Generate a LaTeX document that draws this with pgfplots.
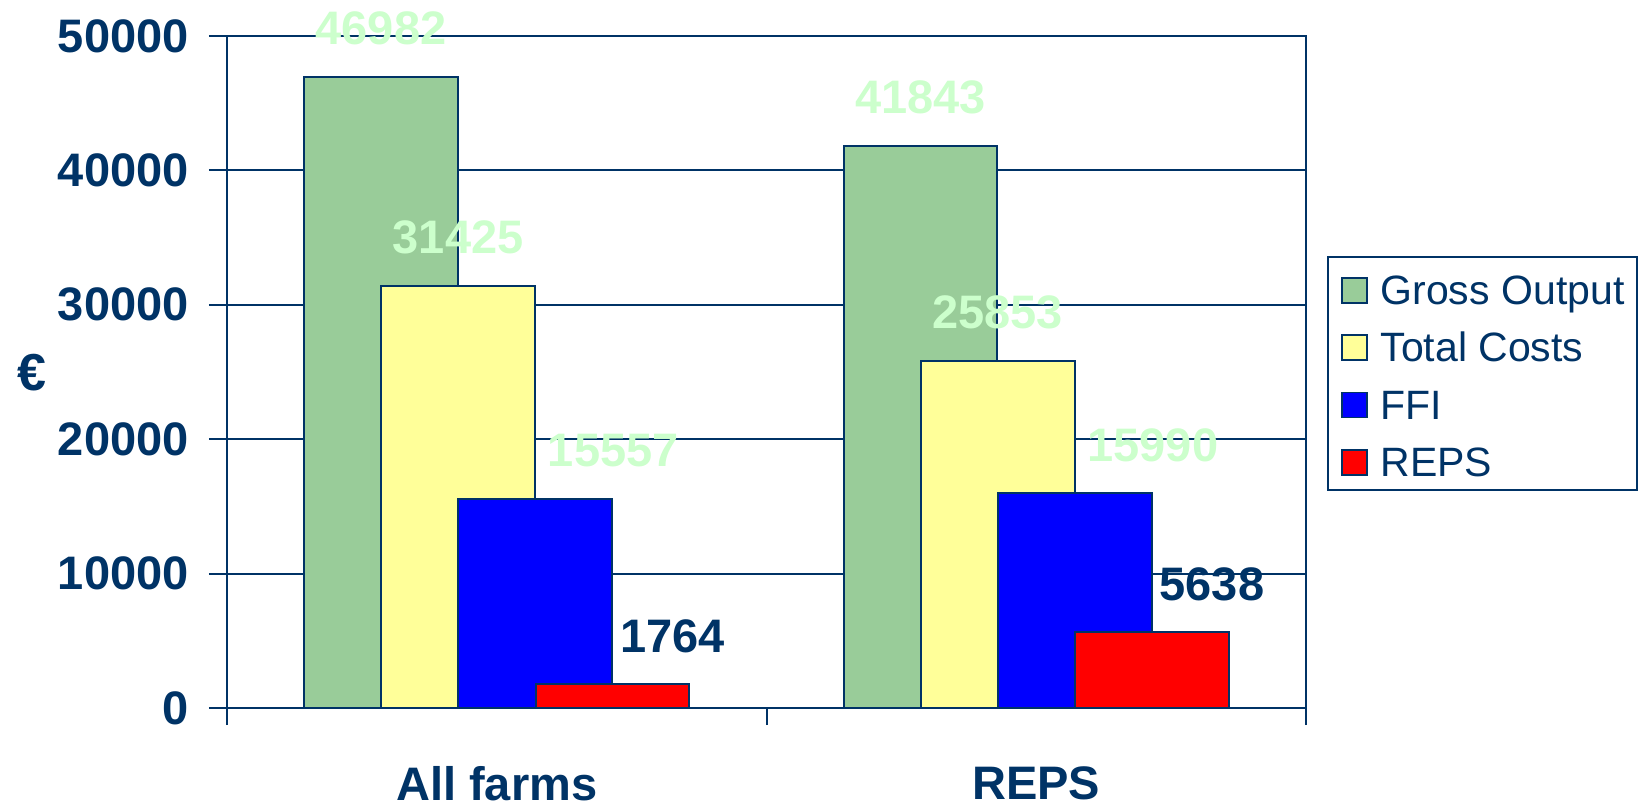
\documentclass[border=0pt]{standalone}
\usepackage{pgfplots}
\pgfplotsset{compat=1.18}
\usepackage{fontspec}
\setmainfont{Liberation Sans}
\definecolor{navy}{HTML}{003366}
\definecolor{go}{HTML}{99CC99}
\definecolor{tc}{HTML}{FFFF99}
\definecolor{ffi}{HTML}{0000FF}
\definecolor{reps}{HTML}{FF0000}
\definecolor{lbl}{HTML}{CCFFCC}
\newcommand{\bigf}{\fontsize{23.5}{27}\selectfont\bfseries}
\newcommand{\legf}{\fontsize{20.5}{24}\selectfont}
\begin{document}
\begin{tikzpicture}
\begin{axis}[
  at={(0,0)}, anchor=south west,
  scale only axis, width=539.5pt, height=336pt,
  xmin=-0.5, xmax=1.5, ymin=0, ymax=50000,
  clip=false,
  ybar, bar width=0.285, bar shift=0pt,
  axis line style={navy, line width=1pt},
  xtick={0,1}, xticklabels={All farms,REPS},
  minor xtick={-0.5,0.5,1.5},
  ytick={0,10000,20000,30000,40000,50000},
  scaled y ticks=false,
  /pgf/number format/1000 sep={},
  /pgf/number format/assume math mode=true,
  tick align=outside,
  xtick pos=bottom, ytick pos=left,
  major tick length=9pt, minor tick length=8.5pt,
  tick style={navy, line width=1pt},
  major x tick style={draw=none},
  ymajorgrids, major grid style={navy, line width=1pt},
  yticklabel style={navy, font=\bigf, inner sep=0pt, anchor=east, xshift=-10pt},
  xticklabel style={navy, font=\bigf, inner sep=0pt, anchor=center, yshift=-28.75pt},
  ylabel={€},
  every axis y label/.style={at={(axis description cs:-0.1807,0.4985)}, anchor=center, navy, font=\fontsize{26}{30}\selectfont\bfseries},
  legend style={at={(1.0195,0.6726)}, anchor=north west, draw=navy, line width=1pt, fill=white,
    font=\legf, text=navy, inner xsep=6.5pt, inner ysep=6.5pt, row sep=11.35pt, column sep=6.5pt,
    nodes={inner sep=0pt, text height=17.3pt, text depth=0pt}},
  legend cell align=left,
  legend image code/.code={\draw[#1, draw=navy, line width=0.8pt] (0pt,-7.75pt) rectangle (12.5pt,4.75pt);},
  nodes near coords,
  point meta=explicit symbolic,
  every node near coord/.append style={font=\bigf, anchor=center, inner sep=0pt, yshift=24pt},
]
\addplot[fill=go, draw=navy, line width=1pt, every node near coord/.append style={lbl}]
  coordinates {(-0.2145,46982)[46982] (0.7855,41843)[41843]};
\addlegendentry{Gross Output}
\addplot[fill=tc, draw=navy, line width=1pt, every node near coord/.append style={lbl}]
  coordinates {(-0.0715,31425)[31425] (0.9285,25853)[25853]};
\addlegendentry{Total Costs}
\addplot[fill=ffi, draw=navy, line width=1pt, every node near coord/.append style={lbl, xshift=39pt}]
  coordinates {(0.0715,15557)[15557] (1.0715,15990)[15990]};
\addlegendentry{FFI}
\addplot[fill=reps, draw=navy, line width=1pt, every node near coord/.append style={navy, xshift=30pt}]
  coordinates {(0.2145,1764)[1764] (1.2145,5638)[5638]};
\addlegendentry{REPS}
\end{axis}
\pgfresetboundingbox
\path (-113.5pt,-47.5pt) rectangle (705.5pt,354pt);
\end{tikzpicture}
\end{document}
